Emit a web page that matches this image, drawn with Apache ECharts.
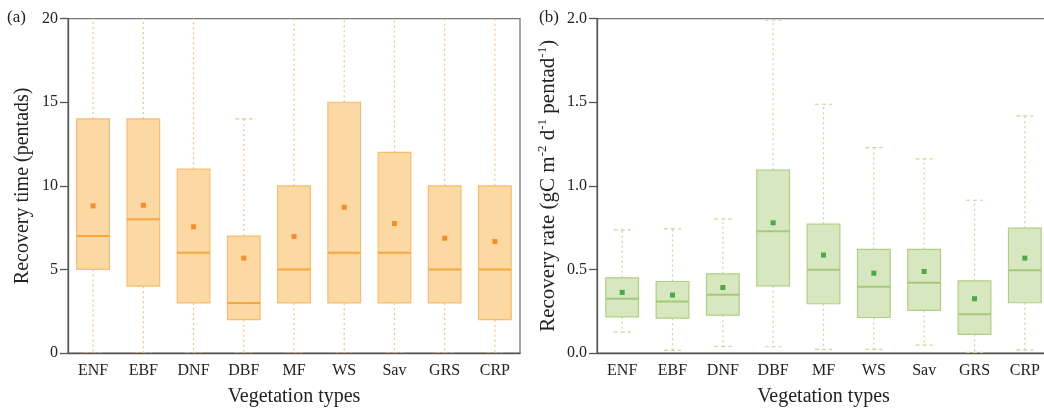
<!DOCTYPE html>
<html><head><meta charset="utf-8">
<script src="https://cdn.jsdelivr.net/npm/echarts@6/dist/echarts.min.js"></script>
<style>html,body{margin:0;padding:0;background:#fff}#c{width:1044px;height:410px}</style>
</head><body><div id="c"></div>
<script>
const categories = ['ENF','EBF','DNF','DBF','MF','WS','Sav','GRS','CRP'];
// (a) Recovery time (pentads)
const timeLow  = [0, 0, 0, 0, 0, 0, 0, 0, 0];
const timeQ1   = [5, 4, 3, 2, 3, 3, 3, 3, 2];
const timeMed  = [7, 8, 6, 3, 5, 6, 6, 5, 5];
const timeQ3   = [14, 14, 11, 7, 10, 15, 12, 10, 10];
const timeHigh = [22, 22, 22, 14, 22, 22, 22, 22, 22];
const timeMean = [8.80, 8.84, 7.55, 5.68, 6.97, 8.72, 7.75, 6.87, 6.67];
const timeTicks = [0, 5, 10, 15, 20];
// (b) Recovery rate (gC m-2 d-1 pentad-1)
const rateLow  = [0.125, 0.016, 0.040, 0.038, 0.022, 0.022, 0.048, 0.004, 0.018];
const rateQ1   = [0.217, 0.209, 0.227, 0.402, 0.295, 0.213, 0.255, 0.112, 0.301];
const rateMed  = [0.325, 0.309, 0.349, 0.729, 0.498, 0.396, 0.420, 0.233, 0.496];
const rateQ3   = [0.450, 0.428, 0.474, 1.094, 0.771, 0.620, 0.620, 0.432, 0.747];
const rateHigh = [0.737, 0.743, 0.803, 1.990, 1.488, 1.229, 1.161, 0.914, 1.418];
const rateMean = [0.363, 0.347, 0.392, 0.779, 0.586, 0.478, 0.488, 0.325, 0.568];
const rateTicks = [0.0, 0.5, 1.0, 1.5, 2.0];

const FONT = '"Liberation Serif", "Times New Roman", serif';
const AX = '#555';

function boxData(lo, q1, me, q3, hi) {
  return categories.map((c, i) => [i, lo[i], q1[i], me[i], q3[i], hi[i]]);
}
function makeRender(st) {
  return function (params, api) {
    const x = api.value(0);
    const pLo = api.coord([x, api.value(1)]);
    const pQ1 = api.coord([x, api.value(2)]);
    const pMe = api.coord([x, api.value(3)]);
    const pQ3 = api.coord([x, api.value(4)]);
    const pHi = api.coord([x, api.value(5)]);
    const band = api.size([1, 0])[0];
    const bw = band * 0.65, cw = band * 0.34;
    const cx = pMe[0];
    const dot = {stroke: st.whisker, lineWidth: 1.2, lineDash: [2, 3]};
    const dash = {stroke: st.whisker, lineWidth: 1.2, lineDash: [4, 3]};
    return {type: 'group', children: [
      {type: 'line', shape: {x1: cx, y1: pQ3[1], x2: cx, y2: pHi[1]}, style: dot},
      {type: 'line', shape: {x1: cx, y1: pQ1[1], x2: cx, y2: pLo[1]}, style: dot},
      {type: 'line', shape: {x1: cx - cw/2, y1: pHi[1], x2: cx + cw/2, y2: pHi[1]}, style: dash},
      {type: 'line', shape: {x1: cx - cw/2, y1: pLo[1], x2: cx + cw/2, y2: pLo[1]}, style: dash},
      {type: 'rect', shape: {x: cx - bw/2, y: pQ3[1], width: bw, height: pQ1[1] - pQ3[1]},
        style: {fill: st.fill, stroke: st.border, lineWidth: 1.2}},
      {type: 'line', shape: {x1: cx - bw/2, y1: pMe[1], x2: cx + bw/2, y2: pMe[1]},
        style: {stroke: st.median, lineWidth: 2}}
    ]};
  };
}
const orange = {fill: '#fcd8a3', border: '#f7bd6e', median: '#f5a63c', whisker: '#f6c27e', mean: '#f47a0a'};
const green  = {fill: '#d7e7bf', border: '#b0cf84', median: '#a6c877', whisker: '#c2d99a', mean: '#2a9a2a'};

const tickLabel = {color: '#222', fontFamily: FONT, fontSize: 16};
function xAxis(gi) {
  return {type: 'category', gridIndex: gi, data: categories, boundaryGap: true,
    axisLine: {lineStyle: {color: AX, width: 1.3}},
    axisTick: {alignWithLabel: true, length: 6, lineStyle: {color: AX, width: 1.3}},
    axisLabel: Object.assign({margin: 10}, tickLabel),
    name: 'Vegetation types', nameLocation: 'middle', nameGap: 34,
    nameTextStyle: {color: '#222', fontFamily: FONT, fontSize: 20}};
}
const option = {
  animation: false,
  grid: [
    {left: 68, top: 18.6, width: 452, height: 334.5, show: true, borderColor: '#777', borderWidth: 1.3,
      backgroundColor: 'transparent', outerBoundsMode: 'none', containLabel: false},
    {left: 597, top: 18.6, width: 453, height: 334.5, show: true, borderColor: '#777', borderWidth: 1.3,
      backgroundColor: 'transparent', outerBoundsMode: 'none', containLabel: false}
  ],
  xAxis: [xAxis(0), xAxis(1)],
  yAxis: [
    {type: 'value', gridIndex: 0, min: timeTicks[0], max: timeTicks[timeTicks.length-1], interval: 5,
      splitLine: {show: false},
      axisLine: {show: true, lineStyle: {color: AX, width: 1.3}},
      axisTick: {show: true, length: 8, lineStyle: {color: AX, width: 1.3}},
      axisLabel: Object.assign({margin: 10}, tickLabel),
      name: 'Recovery time (pentads)', nameLocation: 'middle', nameGap: 35,
      nameTextStyle: {color: '#222', fontFamily: FONT, fontSize: 20}},
    {type: 'value', gridIndex: 1, min: rateTicks[0], max: rateTicks[rateTicks.length-1], interval: 0.5,
      splitLine: {show: false},
      axisLine: {show: true, lineStyle: {color: AX, width: 1.3}},
      axisTick: {show: true, length: 8, lineStyle: {color: AX, width: 1.3}},
      axisLabel: Object.assign({margin: 10, formatter: v => v.toFixed(1)}, tickLabel),
      name: '{m|Recovery rate (gC m}{s|-2}{m| d}{s|-1}{m| pentad}{s|-1}{m|)}', nameLocation: 'middle', nameGap: 37,
      nameTextStyle: {color: '#222', fontFamily: FONT, fontSize: 21,
        rich: {m: {fontFamily: FONT, fontSize: 21, color: '#222', lineHeight: 24},
               s: {fontFamily: FONT, fontSize: 13, color: '#222', verticalAlign: 'top', lineHeight: 24}}}}
  ],
  graphic: [
    {type: 'text', left: 7, top: 9, style: {text: '(a)', font: '17px ' + FONT, fill: '#222'}},
    {type: 'text', left: 539, top: 9, style: {text: '(b)', font: '17px ' + FONT, fill: '#222'}}
  ],
  series: [
    {type: 'custom', xAxisIndex: 0, yAxisIndex: 0, clip: true, renderItem: makeRender(orange),
      data: boxData(timeLow, timeQ1, timeMed, timeQ3, timeHigh), encode: {x: 0, y: [1,2,3,4,5]}},
    {type: 'scatter', xAxisIndex: 0, yAxisIndex: 0, symbol: 'rect', symbolSize: 5,
      itemStyle: {color: orange.mean}, data: categories.map((c, i) => [i, timeMean[i]]), z: 5},
    {type: 'custom', xAxisIndex: 1, yAxisIndex: 1, clip: true, renderItem: makeRender(green),
      data: boxData(rateLow, rateQ1, rateMed, rateQ3, rateHigh), encode: {x: 0, y: [1,2,3,4,5]}},
    {type: 'scatter', xAxisIndex: 1, yAxisIndex: 1, symbol: 'rect', symbolSize: 5,
      itemStyle: {color: green.mean}, data: categories.map((c, i) => [i, rateMean[i]]), z: 5}
  ]
};
const chart = echarts.init(document.getElementById('c'), null, {renderer: 'canvas'});
chart.setOption(option);
</script></body></html>
